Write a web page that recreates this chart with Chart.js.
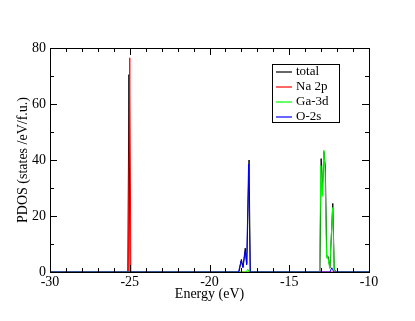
<!DOCTYPE html>
<html>
<head>
<meta charset="utf-8">
<script src="https://cdn.jsdelivr.net/npm/chart.js@4/dist/chart.umd.min.js"></script>
<style>
  html, body { margin:0; padding:0; background:#fff; }
  #wrap { width:415px; height:321px; }
</style>
</head>
<body>
<div id="wrap"><canvas id="pdos"></canvas></div>
<script>
// PDOS values (energy in eV, states/eV/f.u.)
const seriesNames = ["total", "Na 2p", "Ga-3d", "O-2s"];
const totalE = [-30, -25.12, -25.05, -24.98, -18.15, -18.0, -17.9, -17.76, -17.66, -17.52, -17.44, -13.08, -13.0, -12.92, -12.83, -12.74, -12.65, -12.57, -12.45, -12.27, -12.18, -12.05, -10];
const totalY = [0, 0, 70.5, 0, 0, 4.5, 1.8, 8.5, 3, 40, 0, 0, 40.5, 28, 43, 37.5, 6, 5.5, 1.5, 24.5, 1, 0, 0];
const na2pE = [-30, -25.09, -25.0, -24.93, -10];
const na2pY = [0, 0, 76.5, 0, 0];
const ga3dE = [-30, -17.7, -17.6, -17.5, -13.1, -13.02, -12.93, -12.83, -12.75, -12.66, -12.57, -12.46, -12.28, -12.18, -12.05, -10];
const ga3dY = [0, 0, 1, 0, 0, 38, 27, 43.5, 36, 5, 5, 1.2, 23, 0.8, 0, 0];
const o2sE = [-30, -18.18, -18.02, -17.9, -17.76, -17.67, -17.55, -17.45, -12.45, -12.33, -12.2, -10];
const o2sY = [0, 0, 4, 1.5, 7.5, 2.5, 38.5, 0, 0, 1.5, 0, 0];
const xTicks = [-30, -25, -20, -15, -10];
const yTicks = [0, 20, 40, 60, 80];

const FONT = "'Liberation Serif', 'DejaVu Serif', serif";
const pts = (xs, ys) => xs.map((x, i) => ({ x: x, y: ys[i] }));

function mkSet(i, xs, ys, color){
  return {
    label: seriesNames[i],
    data: pts(xs, ys),
    borderColor: color,
    borderWidth: 1,
    pointRadius: 0,
    tension: 0,
    fill: false,
    order: 4 - i
  };
}

// xmgrace-like frame with inward ticks on all four sides
const framePlugin = {
  id: 'frame',
  afterDatasetsDraw(chart){
    const { ctx, chartArea: a, scales: { x, y } } = chart;
    ctx.save();
    ctx.strokeStyle = '#000';
    ctx.lineWidth = 1;
    ctx.strokeRect(Math.round(a.left) + 0.5, Math.round(a.top) + 0.5, Math.round(a.right - a.left), Math.round(a.bottom - a.top));
    ctx.beginPath();
    for (let v = -30; v <= -10; v += 1) {
      const len = v % 5 === 0 ? 7 : 4;
      const px = Math.round(x.getPixelForValue(v)) + 0.5;
      ctx.moveTo(px, a.bottom); ctx.lineTo(px, a.bottom - len);
      ctx.moveTo(px, a.top); ctx.lineTo(px, a.top + len);
    }
    for (let v = 0; v <= 80; v += 10) {
      const len = v % 20 === 0 ? 7 : 4;
      const py = Math.round(y.getPixelForValue(v)) + 0.5;
      ctx.moveTo(a.left, py); ctx.lineTo(a.left + len, py);
      ctx.moveTo(a.right, py); ctx.lineTo(a.right - len, py);
    }
    ctx.stroke();
    ctx.restore();
  }
};

// boxed legend inside the plot
const legendPlugin = {
  id: 'boxLegend',
  afterDraw(chart){
    const ctx = chart.ctx;
    const bx = 272, by = 64, bw = 67, bh = 58;
    ctx.save();
    ctx.fillStyle = '#fff';
    ctx.fillRect(bx, by, bw, bh);
    ctx.strokeStyle = '#000';
    ctx.lineWidth = 1;
    ctx.strokeRect(bx + 0.5, by + 0.5, bw, bh);
    ctx.font = '13px ' + FONT;
    ctx.textBaseline = 'middle';
    chart.data.datasets.forEach((ds, i) => {
      const ry = by + 8 + i * 15;
      ctx.strokeStyle = ds.borderColor;
      ctx.lineWidth = 1.2;
      ctx.beginPath();
      ctx.moveTo(bx + 4, ry); ctx.lineTo(bx + 20, ry);
      ctx.stroke();
      ctx.fillStyle = '#000';
      ctx.fillText(ds.label, bx + 24, ry);
    });
    ctx.restore();
  }
};

new Chart(document.getElementById('pdos'), {
  type: 'line',
  data: {
    datasets: [
      mkSet(0, totalE, totalY, '#000000'),
      mkSet(1, na2pE, na2pY, '#ff0000'),
      mkSet(2, ga3dE, ga3dY, '#00ff00'),
      mkSet(3, o2sE, o2sY, '#0000ff')
    ]
  },
  options: {
    responsive: true,
    maintainAspectRatio: false,
    animation: false,
    layout: { padding: { top: 48, right: 46, bottom: 14, left: 0 } },
    plugins: { legend: { display: false }, tooltip: { enabled: false } },
    scales: {
      x: {
        type: 'linear', min: -30, max: -10,
        afterBuildTicks: s => { s.ticks = xTicks.map(v => ({ value: v })); },
        afterFit: s => { s.height = 35; },
        grid: { display: false, drawTicks: false },
        border: { display: false },
        ticks: { color: '#000', font: { family: FONT, size: 14 }, padding: 2, maxRotation: 0 },
        title: { display: true, text: 'Energy (eV)', color: '#000', font: { family: FONT, size: 14 }, padding: { top: 0, bottom: 4 } }
      },
      y: {
        type: 'linear', min: 0, max: 80,
        afterBuildTicks: s => { s.ticks = yTicks.map(v => ({ value: v })); },
        afterFit: s => { s.width = 50; },
        grid: { display: false, drawTicks: false },
        border: { display: false },
        ticks: { color: '#000', font: { family: FONT, size: 14 }, padding: 4 },
        title: { display: true, text: 'PDOS (states /eV/f.u.)', color: '#000', font: { family: FONT, size: 14 }, padding: { top: 15, bottom: 0 } }
      }
    }
  },
  plugins: [framePlugin, legendPlugin]
});
</script>
</body>
</html>
